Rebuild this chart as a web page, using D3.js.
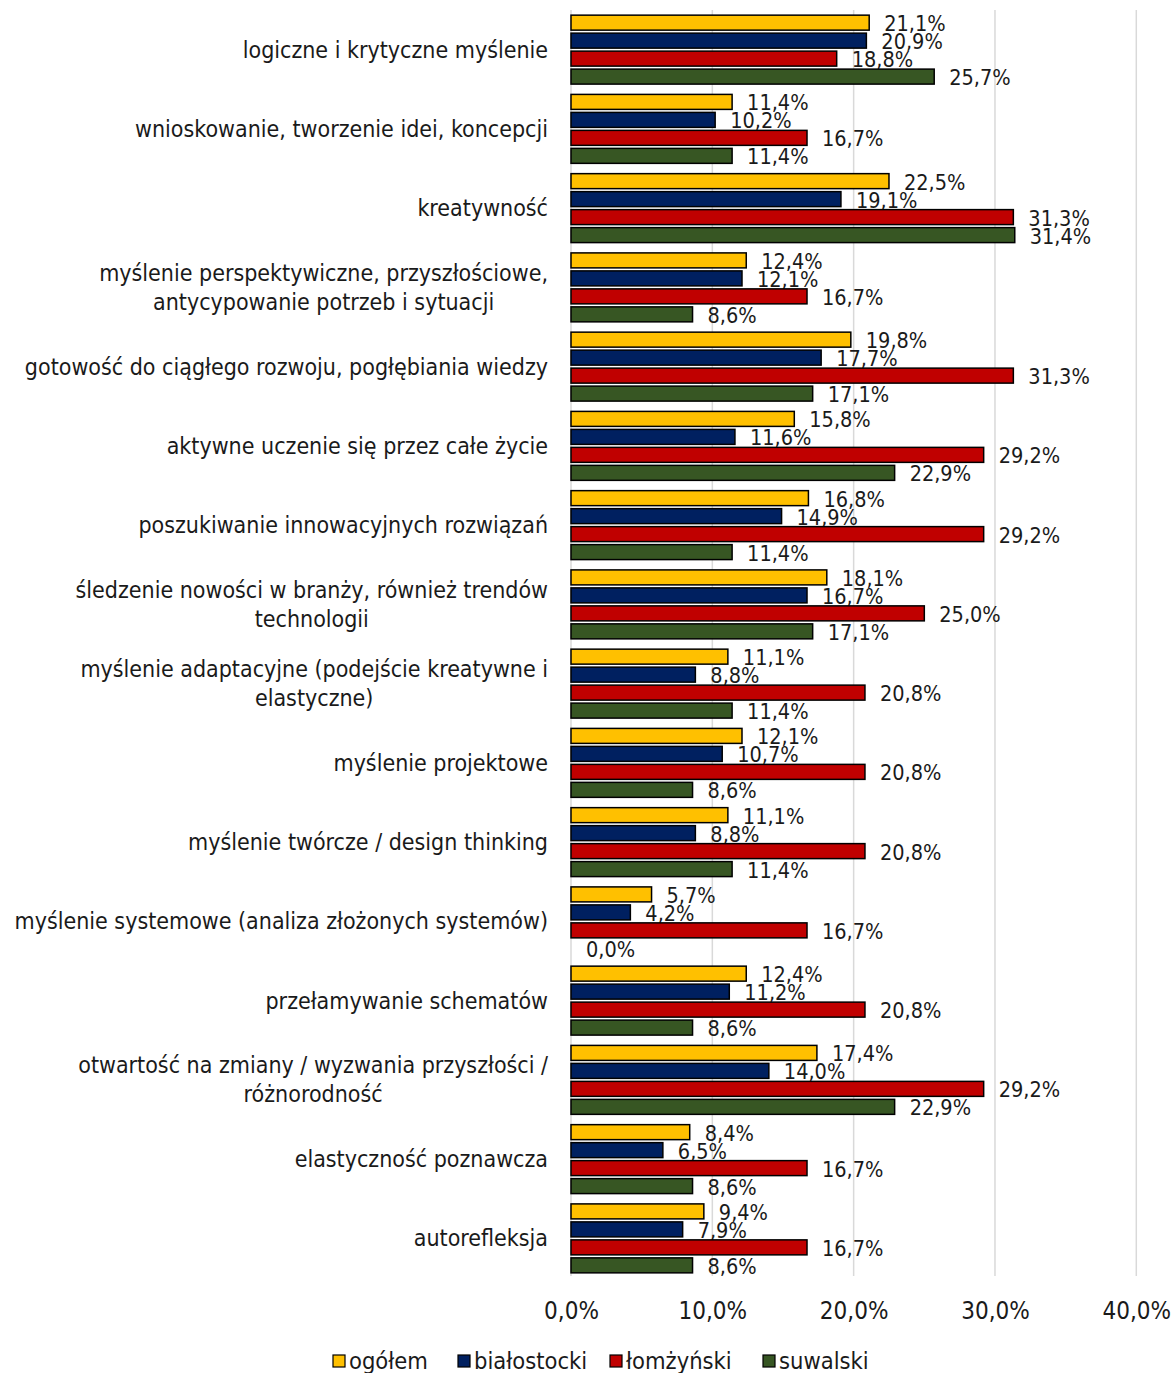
<!DOCTYPE html>
<html>
<head>
<meta charset="utf-8">
<script src="https://cdn.jsdelivr.net/npm/d3@7"></script>
<style>
	body { margin: 0; background: #fff; }
	svg text { font-family: "DejaVu Sans Condensed", "DejaVu Sans", sans-serif; fill: #1a1a1a; }
</style>
</head>
<body>
<div id="chart"></div>
<script>
/*globals d3 */
//Grouped horizontal bars
var categories = [
	"logiczne i krytyczne myślenie",
	"wnioskowanie, tworzenie idei, koncepcji",
	"kreatywność",
	"myślenie perspektywiczne, przyszłościowe,\nantycypowanie potrzeb i sytuacji",
	"gotowość do ciągłego rozwoju, pogłębiania wiedzy",
	"aktywne uczenie się przez całe życie",
	"poszukiwanie innowacyjnych rozwiązań",
	"śledzenie nowości w branży, również trendów\ntechnologii",
	"myślenie adaptacyjne (podejście kreatywne i\nelastyczne)",
	"myślenie projektowe",
	"myślenie twórcze / design thinking",
	"myślenie systemowe (analiza złożonych systemów)",
	"przełamywanie schematów",
	"otwartość na zmiany / wyzwania przyszłości /\nróżnorodność",
	"elastyczność poznawcza",
	"autorefleksja"
];
var seriesNames = ["ogółem", "białostocki", "łomżyński", "suwalski"];
var ogolem      = [21.1, 11.4, 22.5, 12.4, 19.8, 15.8, 16.8, 18.1, 11.1, 12.1, 11.1, 5.7, 12.4, 17.4, 8.4, 9.4];
var bialostocki = [20.9, 10.2, 19.1, 12.1, 17.7, 11.6, 14.9, 16.7, 8.8, 10.7, 8.8, 4.2, 11.2, 14.0, 6.5, 7.9];
var lomzynski   = [18.8, 16.7, 31.3, 16.7, 31.3, 29.2, 29.2, 25.0, 20.8, 20.8, 20.8, 16.7, 20.8, 29.2, 16.7, 16.7];
var suwalski    = [25.7, 11.4, 31.4, 8.6, 17.1, 22.9, 11.4, 17.1, 11.4, 8.6, 11.4, 0.0, 8.6, 22.9, 8.6, 8.6];
var xTicks = [0, 10, 20, 30, 40];

(function() {
	"use strict";
	var colors = ["#FFC000", "#002060", "#C00000", "#375623"];
	var values = [ogolem, bialostocki, lomzynski, suwalski];
	var W = 1174, H = 1373;
	var labelRight = 548;
	var fmt = function(v) { return v.toFixed(1).replace(".", ",") + "%"; };

	var svg = d3.select("#chart").append("svg")
		.attr("width", W)
		.attr("height", H);

	var x = d3.scaleLinear().domain([0, 40]).range([571, 1136.3]);
	var y0 = d3.scaleBand().domain(categories).range([10, 1278])
		.paddingInner(0.13).paddingOuter(0.065);
	var y1 = d3.scaleBand().domain(seriesNames).range([0, y0.bandwidth()])
		.paddingInner(0.1667);

	// gridlines
	svg.append("g").selectAll("line").data(xTicks).enter().append("line")
		.attr("x1", function(d) { return x(d); })
		.attr("x2", function(d) { return x(d); })
		.attr("y1", 10)
		.attr("y2", 1276)
		.attr("stroke", "#d9d9d9")
		.attr("stroke-width", 1.5);

	// axis labels (bottom)
	var xAxis = d3.axisBottom(x).tickValues(xTicks).tickSize(0).tickPadding(0)
		.tickFormat(fmt);
	var gx = svg.append("g").attr("transform", "translate(0,1319)").call(xAxis);
	gx.select(".domain").remove();
	gx.selectAll("text").attr("font-size", 24).attr("dy", 0)
		.style("font-family", "\"DejaVu Sans Condensed\", \"DejaVu Sans\", sans-serif")
		.attr("fill", "#1a1a1a");

	// category labels; wrapped ones are centred on their widest line
	svg.append("g").selectAll("text").data(categories).enter().append("text")
		.attr("font-size", 23)
		.attr("y", function(d) { return y0(d) + y0.bandwidth() / 2; })
		.each(function(d) {
			var lines = d.split("\n");
			var t = d3.select(this);
			var maxW = 0;
			lines.forEach(function(l, i) {
				var ts = t.append("tspan")
					.attr("dy", i === 0 ? (0.35 * 23 - (lines.length - 1) * 14.5) : 29)
					.text(l);
				maxW = Math.max(maxW, ts.node().getComputedTextLength());
			});
			if (lines.length > 1) {
				t.attr("text-anchor", "middle");
				t.selectAll("tspan").attr("x", labelRight - maxW / 2);
			} else {
				t.attr("text-anchor", "end");
				t.selectAll("tspan").attr("x", labelRight);
			}
		});

	// bars
	var groups = svg.append("g").selectAll("g").data(categories).enter().append("g")
		.attr("transform", function(d) { return "translate(0," + y0(d) + ")"; });

	var cells = groups.selectAll("g.cell")
		.data(function(d, ci) {
			return seriesNames.map(function(s, si) {
				return { s: s, si: si, v: values[si][ci] };
			});
		})
		.enter().append("g").attr("class", "cell");

	cells.filter(function(d) { return d.v > 0; }).append("rect")
		.attr("x", x(0))
		.attr("y", function(d) { return y1(d.s); })
		.attr("width", function(d) { return x(d.v) - x(0); })
		.attr("height", y1.bandwidth())
		.attr("fill", function(d) { return colors[d.si]; })
		.attr("stroke", "#000")
		.attr("stroke-width", 1.5);

	cells.append("text")
		.attr("x", function(d) { return x(d.v) + 15; })
		.attr("y", function(d) { return y1(d.s) + y1.bandwidth() / 2 + 1; })
		.attr("dy", "0.35em")
		.attr("font-size", 21.5)
		.text(function(d) { return fmt(d.v); });

	// legend
	var legX = [333, 458, 610, 763];
	var leg = svg.append("g").selectAll("g").data(seriesNames).enter().append("g")
		.attr("transform", function(d, i) { return "translate(" + legX[i] + ",1355)"; });
	leg.append("rect")
		.attr("width", 12).attr("height", 12)
		.attr("fill", function(d, i) { return colors[i]; })
		.attr("stroke", "#000")
		.attr("stroke-width", 1.2);
	leg.append("text")
		.attr("x", 16)
		.attr("y", 6)
		.attr("dy", "0.35em")
		.attr("font-size", 23.5)
		.text(function(d) { return d; });
}());
</script>
</body>
</html>
